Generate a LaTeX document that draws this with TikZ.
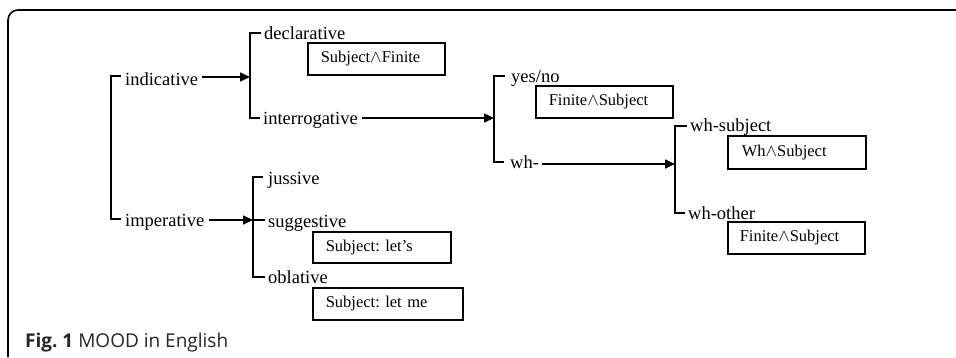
\documentclass[tikz,border=0pt]{standalone}
\usepackage{fontspec}
\setmainfont{Liberation Serif}
\newfontfamily\capfont{Open Sans}
\usetikzlibrary{arrows.meta}
\frenchspacing
\begin{document}
\begin{tikzpicture}[x=1pt,y=-1pt,
  lab/.style={inner sep=0pt, anchor=base west, font=\fontsize{18.5}{20}\selectfont},
  box/.style={draw, line width=1.5pt, inner xsep=13pt, inner ysep=0pt, anchor=north west, align=left, font=\fontsize{16.5}{18}\selectfont},
  conn/.style={line width=1.6pt},
  arr/.style={line width=1.6pt, -{Triangle[length=10pt,width=9pt]}}]
\useasboundingbox (0,0) rectangle (956,357);
% frame
\draw[line width=1.6pt, rounded corners=10pt] (956,10) -- (8,10) -- (8,357);
% labels
\node[lab] (ind) at (125,85) {indicative};
\node[lab] (imp) at (125,226) {imperative};
\node[lab] (decl) at (264,39) {declarative};
\node[lab] (inter) at (263,124) {interrogative};
\node[lab] (yn) at (511,82) {yes/no};
\node[lab] (wh) at (510,168) {wh-};
\node[lab] (whs) at (690,131) {wh-subject};
\node[lab] (who) at (688,219) {wh-other};
\node[lab] (jus) at (268,184) {jussive};
\node[lab] (sug) at (268,227) {suggestive};
\node[lab] (obl) at (268,283) {oblative};
% boxes
\node[box, text width=111pt, minimum height=32pt] (bx1) at (307,42) {Subject\ensuremath{{\wedge}}Finite};
\node[box, text width=111pt, minimum height=32pt] (bx2) at (535,85) {Finite\ensuremath{{\wedge}}Subject};
\node[box, text width=110pt, minimum height=33pt, inner xsep=14pt] (bx3) at (727,135) {Wh\ensuremath{{\wedge}}Subject};
\node[box, text width=113pt, minimum height=32pt, inner xsep=12pt] (bx4) at (727,221) {Finite\ensuremath{{\wedge}}Subject};
\node[box, text width=112pt, minimum height=31pt] (bx5) at (312,231) {Subject: let’s};
\node[box, text width=124pt, minimum height=32pt] (bx6) at (312,287) {Subject: let me};
% bracket coordinates
\coordinate (b1t) at (111,76);
\coordinate (b1b) at (111,219);
\coordinate (b2t) at (250,33);
\coordinate (b2b) at (250,118);
\coordinate (b2a) at (250,77);
\coordinate (b3t) at (494,76);
\coordinate (b3b) at (494,162);
\coordinate (b3a) at (494,118);
\coordinate (b4t) at (675,126);
\coordinate (b4b) at (675,213);
\coordinate (b4a) at (675,164);
\coordinate (b5t) at (253,177);
\coordinate (b5b) at (253,277);
\coordinate (b5a) at (253,220);
% brackets
\draw[conn] ([xshift=-4pt]ind.west |- b1t) -- (b1t) -- (b1b) -- ([xshift=-4pt]imp.west |- b1b);
\draw[conn] ([xshift=-3pt]decl.west |- b2t) -- (b2t) -- (b2b) -- ([xshift=-3pt]inter.west |- b2b);
\draw[conn] ([xshift=-6pt]yn.west |- b3t) -- (b3t) -- (b3b) -- ([xshift=-6pt]wh.west |- b3b);
\draw[conn] ([xshift=-3pt]whs.west |- b4t) -- (b4t) -- (b4b) -- ([xshift=-3pt]who.west |- b4b);
\draw[conn] ([xshift=-5pt]jus.west |- b5t) -- (b5t) -- (b5b) -- ([xshift=-3pt]obl.west |- b5b);
\draw[conn] (b5a) -- ([xshift=-3pt]sug.west |- b5a);
% arrows
\draw[arr] ([xshift=4pt]ind.east |- b2a) -- (b2a);
\draw[arr] ([xshift=4pt]imp.east |- b5a) -- (b5a);
\draw[arr] ([xshift=4pt]inter.east |- b3a) -- (b3a);
\draw[arr] ([xshift=3pt]wh.east |- b4a) -- (b4a);
% caption
\node[inner sep=0pt, anchor=base west, font=\capfont\fontsize{19}{22}\selectfont, text=black!85] (cap) at (25,347) {\textbf{Fig. 1} MOOD in English};
\end{tikzpicture}
\end{document}
